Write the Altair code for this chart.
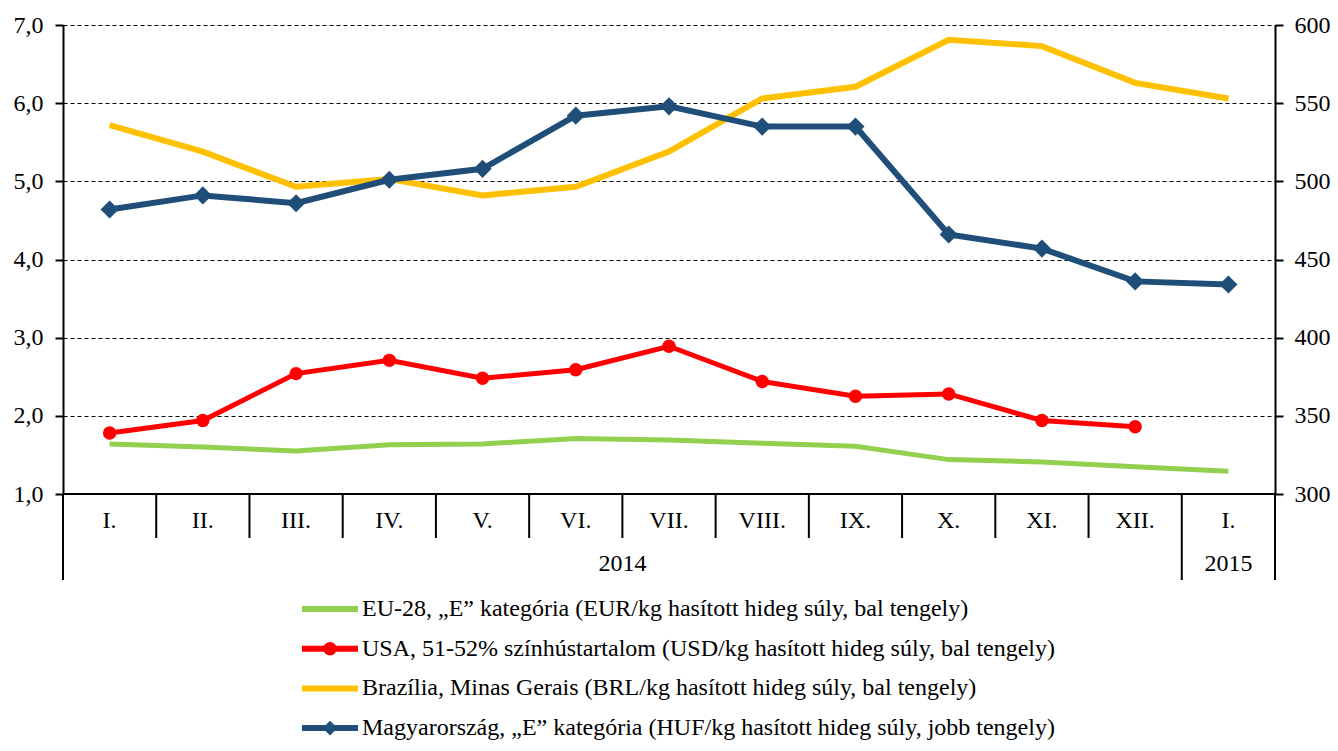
import altair as alt
import pandas as pd

month_labels = ["I.", "II.", "III.", "IV.", "V.", "VI.", "VII.", "VIII.", "IX.", "X.", "XI.", "XII.", "I."]
year_labels = ["2014", "2015"]
year_centers = [6.0, 12.5]
eu = [1.64, 1.60, 1.55, 1.63, 1.64, 1.71, 1.69, 1.65, 1.61, 1.44, 1.41, 1.35, 1.29]
usa = [1.78, 1.94, 2.54, 2.71, 2.48, 2.59, 2.89, 2.44, 2.25, 2.28, 1.94, 1.86, None]
bra = [5.72, 5.38, 4.93, 5.03, 4.82, 4.93, 5.38, 6.06, 6.21, 6.81, 6.73, 6.26, 6.06]
hun = [482, 491, 486, 501, 508, 542, 548, 535, 535, 466, 457, 436, 434]
legend_labels = [
    "EU-28, \u201eE\u201d kateg\u00f3ria (EUR/kg has\u00edtott hideg s\u00faly, bal tengely)",
    "USA, 51-52% sz\u00ednh\u00fastartalom (USD/kg has\u00edtott hideg s\u00faly, bal tengely)",
    "Braz\u00edlia, Minas Gerais (BRL/kg has\u00edtott hideg s\u00faly, bal tengely)",
    "Magyarorsz\u00e1g, \u201eE\u201d kateg\u00f3ria (HUF/kg has\u00edtott hideg s\u00faly, jobb tengely)",
]
colors = ["#92D050", "#FF0000", "#FFC000", "#1F4E79"]

FONT = "Liberation Serif, Times New Roman, serif"
FS = 24
W, H = 1212, 469

x_scale = alt.Scale(domain=[0, 13])
left_scale = alt.Scale(domain=[1, 7])
right_scale = alt.Scale(domain=[300, 600])


def series_df(vals):
    rows = [{"pos": i + 0.5, "v": v} for i, v in enumerate(vals) if v is not None]
    return pd.DataFrame(rows)


X = alt.X("pos:Q", scale=x_scale, axis=None)

left_axis = alt.Axis(
    values=[1, 2, 3, 4, 5, 6, 7],
    labelExpr="replace(format(datum.value, '.1f'), '.', ',')",
    grid=True, gridDash=[4, 3], gridColor="#000000", gridWidth=1,
    domainColor="black", domainWidth=2, tickColor="black", tickWidth=2, tickSize=8,
    labelPadding=12, labelFont=FONT, labelFontSize=FS, labelColor="black", title=None,
)
right_axis = alt.Axis(
    orient="right", values=[300, 350, 400, 450, 500, 550, 600], format="d",
    grid=False, domainColor="black", domainWidth=2, tickColor="black", tickWidth=2, tickSize=8,
    labelPadding=11, labelFont=FONT, labelFontSize=FS, labelColor="black", title=None,
)

green = alt.Chart(series_df(eu)).mark_line(color=colors[0], strokeWidth=5).encode(
    x=X, y=alt.Y("v:Q", scale=left_scale, axis=left_axis))
red = alt.Chart(series_df(usa)).mark_line(
    color=colors[1], strokeWidth=5,
    point=alt.OverlayMarkDef(filled=True, size=180, color=colors[1], opacity=1)).encode(
    x=X, y=alt.Y("v:Q", scale=left_scale, axis=None))
yellow = alt.Chart(series_df(bra)).mark_line(color=colors[2], strokeWidth=6).encode(
    x=X, y=alt.Y("v:Q", scale=left_scale, axis=None))
blue = alt.Chart(series_df(hun)).mark_line(
    color=colors[3], strokeWidth=6,
    point=alt.OverlayMarkDef(filled=True, shape="diamond", size=330, color=colors[3], opacity=1)).encode(
    x=X, y=alt.Y("v:Q", scale=right_scale, axis=right_axis))

# bottom axis line
base_line = alt.Chart(pd.DataFrame({"a": [0], "b": [13]})).mark_rule(color="black", strokeWidth=2).encode(
    x=alt.X("a:Q", scale=x_scale, axis=None), x2="b:Q", y=alt.value(H))

short_df = pd.DataFrame({"xb": list(range(1, 12))})
long_df = pd.DataFrame({"xb": [0, 12, 13]})
short_sep = alt.Chart(short_df).mark_rule(color="black", strokeWidth=2).encode(
    x=alt.X("xb:Q", scale=x_scale, axis=None), y=alt.value(H), y2=alt.value(H + 44))
long_sep = alt.Chart(long_df).mark_rule(color="black", strokeWidth=2).encode(
    x=alt.X("xb:Q", scale=x_scale, axis=None), y=alt.value(H), y2=alt.value(H + 86))

month_df = pd.DataFrame({"pos": [i + 0.5 for i in range(13)], "label": month_labels})
month_text = alt.Chart(month_df).mark_text(
    font=FONT, fontSize=FS, color="black", baseline="middle", align="center").encode(
    x=X, y=alt.value(H + 27), text="label:N")
year_df = pd.DataFrame({"pos": year_centers, "label": year_labels})
year_text = alt.Chart(year_df).mark_text(
    font=FONT, fontSize=FS, color="black", baseline="middle", align="center").encode(
    x=X, y=alt.value(H + 70), text="label:N")

legend_layers = []
one = pd.DataFrame({"a": [0]})
for i, (lab, col) in enumerate(zip(legend_labels, colors)):
    ly = 584 + i * 39.7
    legend_layers.append(alt.Chart(one).mark_rule(color=col, strokeWidth=6).encode(
        x=alt.value(239), x2=alt.value(295), y=alt.value(ly)))
    if i == 1:
        legend_layers.append(alt.Chart(one).mark_point(filled=True, size=180, color=col, opacity=1).encode(
            x=alt.value(267), y=alt.value(ly)))
    if i == 3:
        legend_layers.append(alt.Chart(one).mark_point(filled=True, shape="diamond", size=220, color=col, opacity=1).encode(
            x=alt.value(267), y=alt.value(ly)))
    legend_layers.append(alt.Chart(pd.DataFrame({"label": [lab]})).mark_text(
        font=FONT, fontSize=FS, color="black", align="left", baseline="middle").encode(
        x=alt.value(299), y=alt.value(ly), text="label:N"))

chart = alt.layer(
    green, red, yellow, blue, base_line, short_sep, long_sep, month_text, year_text, *legend_layers
).resolve_scale(y="independent").properties(
    width=W, height=H, autosize="none",
    padding={"left": 55, "top": 17, "right": 55, "bottom": 249},
).configure_view(stroke=None)

chart.save("out.html", embed_options={"renderer": "svg", "actions": False})
